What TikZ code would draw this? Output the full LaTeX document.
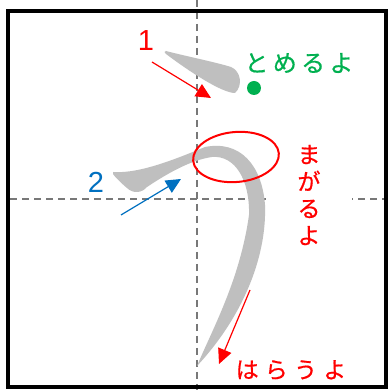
\documentclass[tikz,border=0pt]{standalone}
\usepackage{fontspec}
\setmainfont{Liberation Sans}
\newfontfamily\jp[FakeBold=0.6]{Noto Sans CJK JP}
\usetikzlibrary{arrows.meta}
\definecolor{strokegray}{RGB}{191,191,191}
\definecolor{guidegray}{RGB}{120,120,120}
\definecolor{mygreen}{RGB}{0,176,80}
\definecolor{myblue}{RGB}{0,112,192}
\definecolor{myred}{RGB}{255,0,0}
\tikzset{
  guide/.style={draw=guidegray, line width=1.5pt, dash pattern=on 7pt off 5pt},
  brush/.style={fill=strokegray, draw=none},
  pointer/.style={line width=1.2pt, -{Triangle[length=15pt,width=14pt]}},
  numlabel/.style={inner sep=0pt, font=\fontsize{29}{29}\selectfont},
  jplabel/.style={inner sep=0pt, font=\jp\fontsize{21}{21}\selectfont},
}
\begin{document}
\begin{tikzpicture}[x=1pt,y=-1pt]
\useasboundingbox (0,0) rectangle (392,390);
\fill[white] (0,0) rectangle (392,390);
% guide lines
\draw[guide] (10,199) -- (384,199);
\draw[guide] (197,0) -- (197,390);
% frame
\draw[line width=4pt] (8,11) rectangle (386,387);
% vertical label with white background
\node[jplabel, fill=white, text=myred, align=center, minimum width=86pt,
      minimum height=30pt, font=\jp\fontsize{23}{27}\selectfont] (magaru) at (309,195) {ま\\が\\る\\よ};
% stroke 1
\fill[brush] (166,51) .. controls (185,56) and (215,62) .. (231,67)
  .. controls (241,71) and (243,86) .. (235,93)
  .. controls (222,93) and (190,72) .. (166,54)
  .. controls (164,53) and (164,51) .. (166,51) -- cycle;
% stroke 2
\fill[brush] (113,172) .. controls (140,174) and (178,158) .. (205,147)
  .. controls (240,140) and (262,165) .. (265,205)
  .. controls (267,260) and (240,320) .. (197,366)
  .. controls (212,330) and (240,280) .. (249,215)
  .. controls (250,180) and (235,155) .. (212,157)
  .. controls (190,160) and (165,175) .. (147,187)
  .. controls (142,193) and (133,194) .. (127,188)
  .. controls (121,183) and (115,177) .. (113,174) -- cycle;
% ellipse
\draw[myred, line width=2pt, rotate around={5:(236,157)}] (236,157) ellipse [x radius=43, y radius=25];
% labels
\node[numlabel, text=myred] (n1) at (146,41) {1};
\node[numlabel, text=myblue] (n2) at (96,182) {2};
\node[jplabel, text=mygreen, font=\jp\fontsize{24}{24}\selectfont\addfontfeature{LetterSpace=18}] (tome) at (299,63) {とめるよ};
\node[jplabel, text=myred, font=\jp\fontsize{23}{23}\selectfont\addfontfeature{LetterSpace=27}] (harau) at (291,370) {はらうよ};
% green dot
\fill[mygreen] (254,88) circle [radius=7];
% arrows
\coordinate (a1s) at (152,62);
\coordinate (a1e) at (211,98);
\coordinate (a2s) at (121,215);
\coordinate (a2e) at (181,179);
\coordinate (a3s) at (250,290);
\coordinate (a3e) at (219,364);
\draw[pointer, myred] (a1s) -- (a1e);
\draw[pointer, myblue] (a2s) -- (a2e);
\draw[pointer, myred] (a3s) -- (a3e);
\end{tikzpicture}
\end{document}
